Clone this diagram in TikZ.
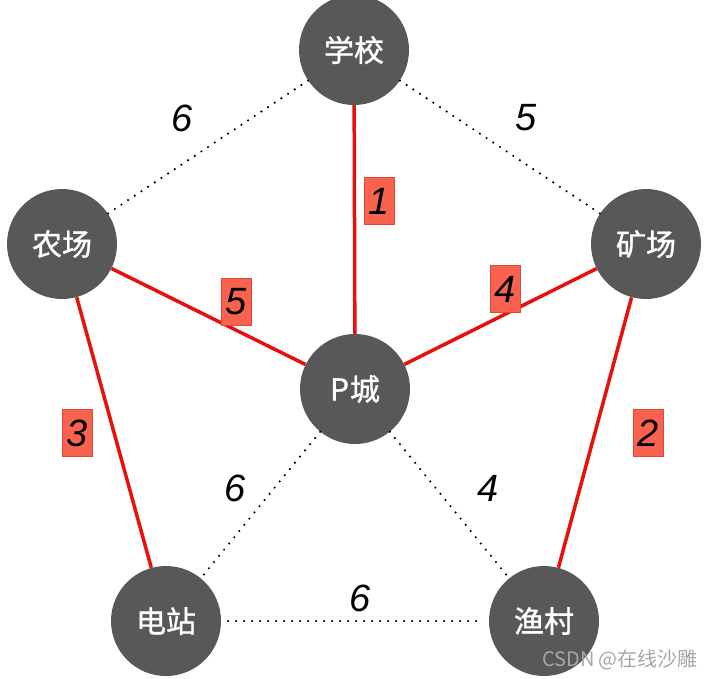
\documentclass[tikz,border=0pt]{standalone}
\usepackage{fontspec}
\setmainfont{Liberation Sans}
\newfontfamily\cjk{Noto Sans CJK SC}[FakeBold=1.2]
\newfontfamily\cjklight{Noto Sans CJK SC}
\usepackage{tikz}
\usetikzlibrary{positioning}

\definecolor{nodegray}{HTML}{585858}
\definecolor{treered}{HTML}{E8100C}
\definecolor{boxred}{HTML}{F8624F}
\definecolor{boxedge}{HTML}{D94A3A}

\tikzset{
    town/.style={circle, fill=nodegray, minimum size=110pt, inner sep=0pt,
        text=white, font=\cjk\fontsize{30}{32}\selectfont},
    tree/.style={draw=treered, line width=3.5pt},
    other/.style={draw=black, line width=2.4pt, line cap=round,
        dash pattern=on 0pt off 8pt, shorten >=7pt, shorten <=7pt},
    weight/.style={font=\fontsize{38}{40}\selectfont\itshape, inner sep=0pt},
    chosen/.style={weight, fill=boxred, draw=boxedge, line width=0.6pt,
        minimum width=30pt, minimum height=47pt}
}

\begin{document}
\begin{tikzpicture}[x=1pt,y=-1pt]
                        \useasboundingbox (0, 0) rectangle (708, 678);
                        \node[town] (school) at (354, 50) {学校};
                        \node[town] (farm) at (62, 244) {农场};
                        \node[town] (mine) at (646, 244) {矿场};
                        \node[town] (pcity) at (355, 389) {P\kern1pt城};
                        \node[town] (power) at (166, 621) {电站};
                        \node[town] (fish) at (544, 621) {渔村};
                        \draw[other]
                        (school) -- (farm)
                        (school) -- (mine)
                        (pcity) -- (power)
                        (pcity) -- (fish)
                        (power) -- (fish);
                        \draw[tree]
                        (school) -- (pcity)
                        (farm) -- (pcity)
                        (mine) -- (pcity)
                        (farm) -- (power)
                        (mine) -- (fish);
                        \node[weight] (w1) at (182, 118) {6};
                        \node[weight] (w2) at (526, 118) {5};
                        \node[chosen] (w3) at (379, 201) {1};
                        \node[chosen] (w4) at (236, 302) {5};
                        \node[chosen] (w5) at (505, 289) {4};
                        \node[chosen] (w6) at (77, 433) {3};
                        \node[chosen] (w7) at (648, 433) {2};
                        \node[weight] (w8) at (235, 488) {6};
                        \node[weight] (w9) at (488, 488) {4};
                        \node[weight] (w10) at (360, 598) {6};
                        \node[text=gray!70, font=\cjklight\fontsize{20}{22}\selectfont] (mark) at (620, 660) {CSDN @在线沙雕};
                    \end{tikzpicture}
\end{document}
